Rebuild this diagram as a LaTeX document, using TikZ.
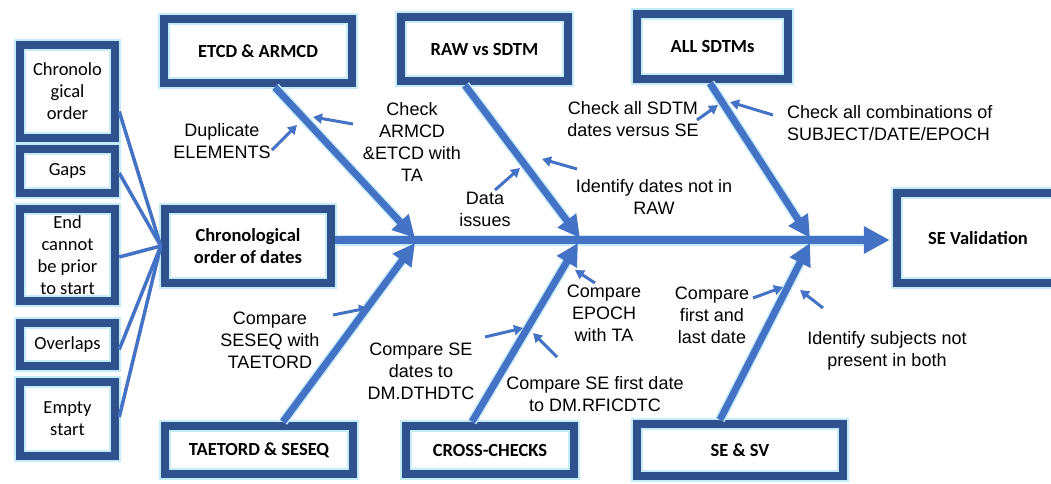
\documentclass[tikz,border=0pt]{standalone}
\usepackage{fontspec}
\setmainfont{Liberation Sans}
\newfontfamily\carl{Carlito}
\usetikzlibrary{arrows.meta}
\definecolor{bone}{HTML}{4472C4}
\definecolor{frame}{HTML}{2F528F}
\definecolor{glow}{HTML}{C4ECFB}
\begin{document}
\begin{tikzpicture}[x=1pt,y=-1pt,
  box/.style={preaction={fill=white},preaction={draw=glow,line width=12pt},
    draw=frame,line width=8.5pt,inner sep=2pt,align=center,
    font=\carl\bfseries\fontsize{18.5}{22}\selectfont},
  sidebox/.style={box,minimum width=95pt,font=\carl\fontsize{18.5}{22}\selectfont},
  lbl/.style={align=center,inner sep=1pt,font=\fontsize{18}{22}\selectfont},
  bonearrow/.style={draw=bone,line width=7pt,
    preaction={draw=glow,line width=10pt,arrows=-,shorten >=20pt},
    -{Triangle[length=22pt,width=22pt]}},
  spinearrow/.style={draw=bone,line width=8pt,
    preaction={draw=glow,line width=11pt,arrows=-,shorten >=24pt},
    -{Triangle[length=26pt,width=26pt]}},
  small/.style={draw=bone,line width=3pt,-{Triangle[length=9pt,width=10pt]}},
  feeder/.style={draw=bone,line width=3.5pt}]
\useasboundingbox (0,0) rectangle (1051,483);
\clip (0,0) rectangle (1051,483);

% main boxes
\node[box,minimum width=188pt,minimum height=64pt] (etcd) at (258,51) {ETCD \& ARMCD};
\node[box,minimum width=167pt,minimum height=64pt] (raw) at (484.5,49) {RAW vs SDTM};
\node[box,minimum width=151pt,minimum height=65pt] (all) at (712.5,46.5) {ALL SDTMs};
\node[box,minimum width=162pt,minimum height=90pt] (sev) at (978,238) {SE Validation};
\node[box,minimum width=166pt,minimum height=74pt] (chrono) at (248,246) {Chronological\\order of dates};
\node[box,minimum width=188pt,minimum height=48pt] (taet) at (259,450) {TAETORD \& SESEQ};
\node[box,minimum width=168pt,minimum height=48pt] (cross) at (490,450) {CROSS-CHECKS};
\node[box,minimum width=206pt,minimum height=52pt] (sesv) at (740,450) {SE \& SV};

% side boxes
\node[sidebox,minimum height=93pt] (co) at (67.5,91.5) {Chronolo\\gical\\order};
\node[sidebox,minimum height=44pt] (gaps) at (67.5,171) {Gaps};
\node[sidebox,minimum height=92pt] (endc) at (67.5,255) {End\\cannot\\be prior\\to start};
\node[sidebox,minimum height=43pt] (ovl) at (67.5,344.5) {Overlaps};
\node[sidebox,minimum height=74pt] (empty) at (67.5,419) {Empty\\start};

% feeders
\draw[feeder] ([yshift=-20pt]co.east) -- (chrono.west);
\draw[feeder] ([yshift=-2pt]gaps.east) -- (chrono.west);
\draw[feeder] ([yshift=-2pt]endc.east) -- (chrono.west);
\draw[feeder] ([yshift=-5pt]ovl.east) -- (chrono.west);
\draw[feeder] ([yshift=2pt]empty.east) -- (chrono.west);

% spine and bones
\coordinate (j1u) at (415,238);
\coordinate (j2u) at (580,238);
\coordinate (j3u) at (810,238);
\coordinate (j1d) at (415,243);
\coordinate (j2d) at (578,243);
\coordinate (j3d) at (810,243);
\draw[spinearrow] (chrono.east |- sev.west) ++(0,2) -- ([yshift=-2pt,xshift=-3pt]sev.west);
\draw[bonearrow] ([xshift=17pt]etcd.south) -- (j1u);
\draw[bonearrow] ([xshift=-19.5pt]raw.south) -- (j2u);
\draw[bonearrow] ([xshift=-2.5pt]all.south) -- (j3u);
\draw[bonearrow] ([xshift=24pt]taet.north) -- (j1d);
\draw[bonearrow] ([xshift=-18pt]cross.north) -- (j2d);
\draw[bonearrow] ([xshift=-20pt]sesv.north) -- (j3d);

% labels
\node[lbl] (dup) at (222,141) {Duplicate\\ELEMENTS};
\node[lbl] (chk) at (412,142) {Check\\ARMCD\\\&ETCD with\\TA};
\node[lbl] (data) at (485,209) {Data\\issues};
\node[lbl] (ident) at (654,197) {Identify dates not in\\RAW};
\node[lbl] (chkall) at (633,119) {Check all SDTM\\dates versus SE};
\node[lbl,anchor=west,align=left] (comb) at (786,123) {Check all combinations of\\SUBJECT/DATE/EPOCH};
\node[lbl] (seseq) at (270,340) {Compare\\SESEQ with\\TAETORD};
\node[lbl] (dth) at (421,371) {Compare SE\\dates to\\DM.DTHDTC};
\node[lbl] (epoch) at (604,313) {Compare\\EPOCH\\with TA};
\node[lbl] (rfic) at (595,394) {Compare SE first date\\to DM.RFICDTC};
\node[lbl] (fl) at (712,315) {Compare\\first and\\last date};
\node[lbl] (subj) at (887,351) {Identify subjects not\\present in both};

% small arrows
\coordinate (a1s) at (272,150); \coordinate (a1e) at (297,125);
\coordinate (a2s) at (353,124); \coordinate (a2e) at (313,117);
\coordinate (a3s) at (495,190); \coordinate (a3e) at (520,168);
\coordinate (a4s) at (577,169); \coordinate (a4e) at (542,159);
\coordinate (a5s) at (697,120); \coordinate (a5e) at (718,105);
\coordinate (a6s) at (773,115); \coordinate (a6e) at (730,102);
\coordinate (a7s) at (333,315); \coordinate (a7e) at (368,308);
\coordinate (a8s) at (485,337); \coordinate (a8e) at (523,328);
\coordinate (a9s) at (557,357); \coordinate (a9e) at (533,333);
\coordinate (a10s) at (595,283); \coordinate (a10e) at (575,270);
\coordinate (a11s) at (753,298); \coordinate (a11e) at (783,287);
\coordinate (a12s) at (823,308); \coordinate (a12e) at (800,290);
\foreach \i in {1,...,12} {\draw[small] (a\i s) -- (a\i e);}
\end{tikzpicture}
\end{document}
